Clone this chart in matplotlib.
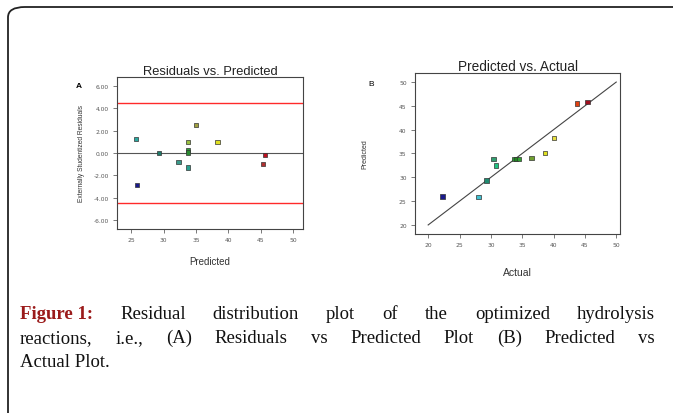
import numpy as np
import matplotlib
matplotlib.use('Agg')
import matplotlib.pyplot as plt
from matplotlib.patches import FancyBboxPatch

# residuals vs predicted (panel A)
res_pred = [25.7, 25.9, 29.3, 32.3, 33.7, 33.7, 33.7, 33.7, 35.0, 38.3, 45.3, 45.6]
res_val = [1.25, -2.85, 0.0, -0.8, 1.0, 0.25, 0.05, -1.3, 2.5, 0.95, -0.95, -0.2]
res_col = ['#2aa9a0', '#1a1a8c', '#1f7a6a', '#3a9a8a', '#9ac040', '#2e9a3a', '#2a8a30',
           '#2aa090', '#a0a040', '#e0e020', '#b03030', '#c01020']
limit = 4.45

# predicted vs actual (panel B)
act = [22.3, 28.0, 29.3, 30.4, 30.8, 33.7, 34.0, 34.5, 36.5, 38.6, 40.1, 43.7, 45.4]
pred = [26.0, 25.9, 29.3, 33.9, 32.5, 33.9, 33.9, 33.9, 34.0, 35.1, 38.3, 45.5, 45.8]
pa_col = ['#1a1a8c', '#40c0d0', '#1f8a70', '#30a070', '#20c080', '#2a9a30', '#208a20',
          '#30a030', '#70a030', '#e0e020', '#e8e040', '#e04010', '#a01020']

fig = plt.figure(figsize=(6.73, 4.14), dpi=100)

frame = FancyBboxPatch((8 / 673, -0.2), 1.2, 0.2 + 1 - 8 / 414,
                       boxstyle='round,pad=0,rounding_size=0.025',
                       transform=fig.transFigure, fill=False, ec='#222222', lw=1.3)
fig.patches.append(frame)

# panel A
ax1 = fig.add_axes([117 / 673, 1 - 230 / 414, 186 / 673, 152 / 414])
ax1.scatter(res_pred, res_val, marker='s', s=9, c=res_col, edgecolors='#333333', linewidths=0.5, zorder=3)
ax1.axhline(0, color='#555555', lw=0.8)
ax1.axhline(limit, color='#ff2a2a', lw=1.0)
ax1.axhline(-limit, color='#ff2a2a', lw=1.0)
ax1.set_xlim(22.8, 51.5)
ax1.set_ylim(-6.8, 6.8)
ax1.set_xticks([25, 30, 35, 40, 45, 50])
ax1.set_yticks([-6, -4, -2, 0, 2, 4, 6])
ax1.set_yticklabels(['%.2f' % v for v in [-6, -4, -2, 0, 2, 4, 6]])
ax1.set_title('Residuals vs. Predicted', fontsize=9.3, family='Liberation Sans', pad=1.5, color='#222222')
ax1.set_xlabel('Predicted', fontsize=7, family='Liberation Sans', labelpad=10, color='#333333')
ax1.set_ylabel('Externally Studentized Residuals', fontsize=4.8, family='Liberation Sans', labelpad=6, color='#333333')
fig.text(76 / 673, 1 - 88 / 414, 'A', fontsize=6, weight='bold', family='Liberation Sans')

# panel B
ax2 = fig.add_axes([415 / 673, 1 - 235 / 414, 205 / 673, 161 / 414])
ax2.plot([20, 50], [20, 50], color='#444444', lw=0.8)
ax2.scatter(act, pred, marker='s', s=10, c=pa_col, edgecolors='#333333', linewidths=0.5, zorder=3)
ax2.set_xlim(17.9, 50.6)
ax2.set_ylim(18.1, 51.9)
ax2.set_xticks([20, 25, 30, 35, 40, 45, 50])
ax2.set_yticks([20, 25, 30, 35, 40, 45, 50])
ax2.set_title('Predicted vs. Actual', fontsize=9.8, family='Liberation Sans', pad=1.5, color='#222222')
ax2.set_xlabel('Actual', fontsize=7.5, family='Liberation Sans', labelpad=14, color='#333333')
ax2.set_ylabel('Predicted', fontsize=5, family='Liberation Sans', labelpad=22, color='#333333')
fig.text(368 / 673, 1 - 86 / 414, 'B', fontsize=6, family='Liberation Sans')

for ax in (ax1, ax2):
    for sp in ax.spines.values():
        sp.set_color('#444444')
        sp.set_linewidth(0.8)
    ax.tick_params(length=3, width=0.5, pad=3, colors='#444444', labelsize=4.3, labelcolor='#555555')

# caption, justified by hand
lines = [
    ['Figure 1:', 'Residual', 'distribution', 'plot', 'of', 'the', 'optimized', 'hydrolysis'],
    ['reactions,', 'i.e.,', '(A)', 'Residuals', 'vs', 'Predicted', 'Plot', '(B)', 'Predicted', 'vs'],
    ['Actual Plot.'],
]
x0, x1 = 20, 655
ys = [319, 343, 367]
cap_font = dict(fontsize=13.5, family='Liberation Serif', va='baseline')
r = fig.canvas.get_renderer()
for i, words in enumerate(lines):
    y = 1 - ys[i] / 414
    items = []
    for w in words:
        if w == 'Figure 1:':
            t = fig.text(0, y, w, color='#9b1b1b', weight='bold', **cap_font)
        else:
            t = fig.text(0, y, w, color='#111111', **cap_font)
        items.append(t)
    widths = [t.get_window_extent(r).width for t in items]
    if i < len(lines) - 1:
        gap = (x1 - x0 - sum(widths)) / (len(items) - 1)
    else:
        gap = 0
    x = x0
    for t, w in zip(items, widths):
        t.set_x(x / 673)
        x += w + gap

fig.savefig('out.png', dpi=100)
